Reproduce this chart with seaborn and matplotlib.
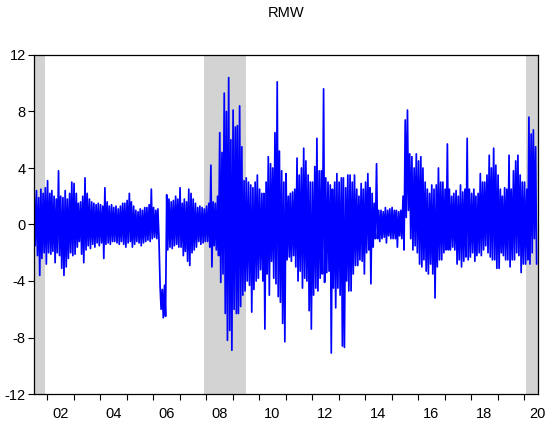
import pandas as pd
import matplotlib
matplotlib.use("Agg")
import matplotlib.pyplot as plt
import matplotlib.dates as mdates
from matplotlib.ticker import FixedLocator, FixedFormatter, NullFormatter
import seaborn as sns

title = "RMW"
first_month = "2001-07"

# monthly upper swing of the daily RMW series
rmw_high = [
    2.0, 2.4, 1.9, 2.5, 2.2, 2.6,                                # 2001 Jul-Dec
    3.1, 2.2, 2.4, 2.0, 1.8, 3.8, 2.0, 1.9, 2.4, 1.8, 2.2, 3.0,  # 2002
    2.9, 2.2, 1.5, 1.6, 2.0, 3.3, 2.2, 1.8, 1.6, 1.5, 1.4, 1.5,  # 2003
    1.4, 1.3, 2.6, 1.6, 1.3, 1.4, 1.2, 1.3, 1.1, 1.3, 1.5, 1.5,  # 2004
    1.7, 2.2, 1.6, 1.3, 1.0, 0.9, 1.1, 1.0, 1.2, 1.2, 1.4, 2.5,  # 2005
    1.2, 1.0, 1.1, -4.4, -4.6, -4.3, 2.1, 1.8, 1.6, 1.7, 2.0, 1.8,  # 2006
    2.6, 1.5, 1.8, 1.6, 2.5, 2.2, 1.8, 1.5, 1.2, 1.3, 1.2, 1.1,  # 2007
    1.3, 1.5, 4.2, 1.6, 1.5, 2.0, 6.5, 5.1, 9.3, 8.0, 10.4, 6.0,  # 2008
    8.1, 6.9, 7.0, 8.4, 5.5, 3.1, 3.3, 3.0, 2.8, 2.6, 3.0, 3.5,  # 2009
    2.5, 2.2, 2.2, 3.0, 4.8, 4.3, 4.0, 6.5, 10.1, 5.2, 3.8, 3.0,  # 2010
    3.6, 2.0, 2.2, 2.3, 2.5, 4.7, 3.5, 4.0, 5.4, 4.5, 3.5, 3.0,  # 2011
    3.0, 4.1, 6.1, 3.8, 3.8, 9.6, 3.3, 3.0, 2.8, 2.5, 3.0, 3.6,  # 2012
    3.0, 3.3, 3.3, 2.6, 3.5, 3.5, 3.0, 3.5, 2.5, 2.0, 2.9, 2.5,  # 2013
    3.0, 3.6, 2.6, 2.2, 1.5, 4.3, 1.0, 1.0, 0.9, 1.2, 1.0, 1.1,  # 2014
    1.2, 1.0, 1.0, 0.9, 1.0, 2.0, 7.4, 8.1, 5.0, 4.8, 4.0, 5.0,  # 2015
    4.5, 4.8, 4.0, 3.0, 2.5, 2.2, 2.8, 2.5, 2.8, 4.0, 3.0, 3.0,  # 2016
    2.5, 5.7, 2.5, 2.0, 2.2, 2.4, 2.0, 2.8, 2.3, 2.5, 6.1, 2.5,  # 2017
    2.2, 2.5, 2.0, 2.2, 3.6, 3.0, 3.0, 3.5, 4.9, 4.0, 5.4, 4.2,  # 2018
    3.5, 2.5, 2.0, 2.6, 2.5, 4.9, 2.5, 3.8, 4.5, 4.9, 3.5, 3.0,  # 2019
    3.0, 2.5, 7.6, 6.4, 6.7, 5.5,                                # 2020 Jan-Jun
]

# monthly lower swing of the daily RMW series
rmw_low = [
    -1.5, -2.2, -3.6, -2.4, -2.0, -2.8,                                  # 2001 Jul-Dec
    -2.0, -2.1, -1.9, -2.7, -2.0, -2.2, -3.1, -3.6, -3.0, -2.4, -2.0, -2.2,  # 2002
    -2.1, -1.6, -1.2, -2.1, -2.7, -1.8, -1.5, -1.7, -1.4, -1.6, -1.3, -1.5,  # 2003
    -1.3, -2.4, -1.4, -1.3, -1.4, -1.2, -1.2, -1.3, -1.4, -1.2, -1.4, -1.6,  # 2004
    -1.3, -1.2, -1.6, -1.4, -1.2, -1.3, -1.5, -1.3, -1.2, -1.1, -1.2, -1.0,  # 2005
    -0.9, -1.0, -0.8, -6.0, -6.6, -6.5, -1.8, -1.6, -1.7, -1.5, -1.4, -1.6,  # 2006
    -1.6, -2.2, -1.9, -2.6, -2.9, -2.0, -1.8, -1.6, -1.2, -1.4, -1.3, -1.2,  # 2007
    -1.2, -1.6, -3.0, -1.5, -1.8, -2.2, -4.1, -3.5, -6.3, -8.2, -7.5, -8.9,  # 2008
    -6.0, -6.3, -6.3, -5.8, -5.0, -4.7, -4.0, -4.3, -6.2, -4.6, -4.0, -3.8,  # 2009
    -3.2, -4.0, -7.4, -3.5, -5.0, -2.6, -3.8, -4.2, -5.1, -5.5, -7.0, -8.3,  # 2010
    -2.5, -2.3, -2.6, -2.2, -3.0, -4.0, -3.3, -4.5, -3.8, -4.0, -6.1, -7.4,  # 2011
    -5.0, -4.5, -4.7, -3.8, -3.5, -4.1, -3.4, -3.3, -9.1, -4.5, -5.9, -4.5,  # 2012
    -5.0, -8.6, -8.7, -4.0, -4.7, -4.7, -3.5, -2.9, -2.9, -2.5, -2.6, -3.5,  # 2013
    -2.0, -1.8, -4.2, -1.6, -1.0, -1.0, -1.2, -1.0, -0.9, -1.3, -0.8, -1.0,  # 2014
    -1.0, -1.0, -1.6, -0.8, -1.0, -1.8, 0.5, 1.0, -1.0, -1.8, -1.5, -2.0,    # 2015
    -2.8, -3.0, -2.5, -3.3, -3.5, -2.8, -3.5, -5.2, -3.0, -2.5, -2.5, -2.0,  # 2016
    -1.8, -1.8, -1.8, -1.6, -1.8, -2.8, -2.5, -3.0, -2.6, -2.3, -2.5, -2.3,  # 2017
    -2.0, -2.6, -2.2, -2.0, -2.2, -1.8, -1.5, -2.0, -2.3, -2.5, -2.5, -3.1,  # 2018
    -3.1, -2.0, -2.2, -2.5, -2.5, -3.0, -2.5, -2.5, -2.0, -2.2, -3.4, -2.8,  # 2019
    -2.8, -2.5, -2.8, -2.0, -1.0, -2.8,                                  # 2020 Jan-Jun
]

recession_starts = ["2001-03-01", "2007-12-01", "2020-02-01"]
recession_ends = ["2001-11-30", "2009-06-30", "2020-07-31"]

y_ticks = [-12, -8, -4, 0, 4, 8, 12]
x_label_years = [2002, 2004, 2006, 2008, 2010, 2012, 2014, 2016, 2018, 2020]
x_labels = ["02", "04", "06", "08", "10", "12", "14", "16", "18", "20"]

# ---- build the table (two observations per month: upper then lower swing)
months = pd.period_range(first_month, periods=len(rmw_high), freq="M")
dates, values = [], []
for m, hi, lo in zip(months, rmw_high, rmw_low):
    dates.append(pd.Timestamp(year=m.year, month=m.month, day=7))
    values.append(hi)
    dates.append(pd.Timestamp(year=m.year, month=m.month, day=21))
    values.append(lo)
df = pd.DataFrame({"date": dates, "RMW": values})

sns.set_theme(style="ticks")
plt.rcParams["font.family"] = ["Liberation Sans", "DejaVu Sans"]

fig = plt.figure(figsize=(5.5, 4.24), dpi=100)
ax = fig.add_axes([34 / 550, 1 - 394 / 424, (538 - 34) / 550, (394 - 55) / 424])

for s, e in zip(recession_starts, recession_ends):
    ax.axvspan(pd.Timestamp(s), pd.Timestamp(e), color="#d3d3d3", lw=0, zorder=0)

sns.lineplot(data=df, x="date", y="RMW", estimator=None, color="#0000ff",
             linewidth=1.25, ax=ax, zorder=2)

ax.set_xlim(pd.Timestamp("2001-07-04"), pd.Timestamp("2020-07-10"))
ax.set_ylim(-12, 12)
ax.set_yticks(y_ticks)
ax.set_yticklabels([str(v) for v in y_ticks])

ax.xaxis.set_major_locator(mdates.YearLocator(1))
ax.xaxis.set_major_formatter(NullFormatter())
ax.xaxis.set_minor_locator(FixedLocator(
    [mdates.date2num(pd.Timestamp(year=y, month=7, day=1)) for y in x_label_years]))
ax.xaxis.set_minor_formatter(FixedFormatter(x_labels))

ax.tick_params(axis="x", which="major", direction="out", length=4, width=0.8,
               color="black", bottom=True, top=False)
ax.tick_params(axis="x", which="minor", length=0, pad=9, labelsize=10.5,
               labelcolor="black")
ax.tick_params(axis="y", which="major", direction="out", length=4, width=0.8,
               color="black", pad=2, labelsize=10.5, labelcolor="black",
               left=True, right=False)

for sp in ax.spines.values():
    sp.set_visible(True)
    sp.set_color("black")
    sp.set_linewidth(0.9)

ax.set_xlabel("")
ax.set_ylabel("")
fig.text(286 / 550, 1 - 13 / 424, title, ha="center", va="center",
         fontsize=10.5, color="black")

fig.savefig("out.png", dpi=100)
